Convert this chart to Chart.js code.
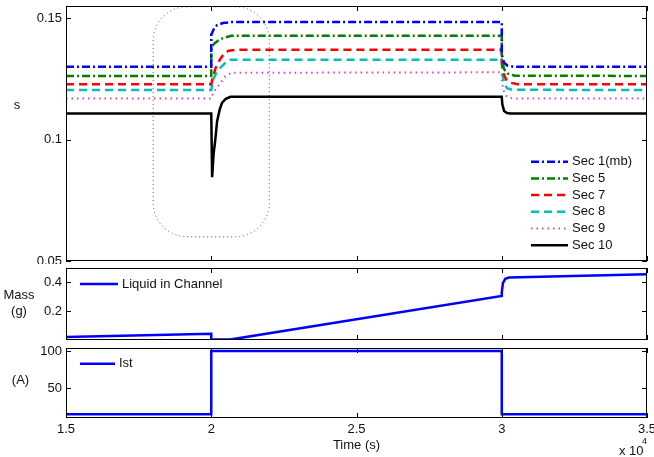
<!DOCTYPE html>
<html>
<head>
<meta charset="utf-8">
<script src="https://cdn.jsdelivr.net/npm/chart.js@4.4.1/dist/chart.umd.min.js"></script>
<style>
	html, body { margin: 0; padding: 0; background: #fff; }
	#wrap { position: relative; width: 654px; height: 457px; overflow: hidden; background: #fff; }
	canvas { position: absolute; left: 0; }
</style>
</head>
<body>
<div id="wrap">
	<canvas id="sec-chart" width="654" height="264" style="top:0"></canvas>
	<canvas id="mass-chart" width="654" height="80" style="top:264px"></canvas>
	<canvas id="ist-chart" width="654" height="113" style="top:344px"></canvas>
</div>
<script>
// shared x axis (time in s, shown as x 10^4)
const xTickValues = [15000, 20000, 25000, 30000, 35000];
const xTickLabels = ["1.5", "2", "2.5", "3", "3.5"];

const secTickValues = [0.05, 0.1, 0.15];
const secTickLabels = ["0.05", "0.1", "0.15"];
const massTickValues = [0.2, 0.4];
const massTickLabels = ["0.2", "0.4"];
const istTickValues = [50, 100];
const istTickLabels = ["50", "100"];

const secLabels = ["Sec 1(mb)", "Sec 5", "Sec 7", "Sec 8", "Sec 9", "Sec 10"];

// [time, s]
const sec1 = [[15000, 0.1300], [20000, 0.1300], [20000, 0.1432], [20100, 0.1458], [20200, 0.1471], [20400, 0.1480], [20700, 0.1484], [30000, 0.1484], [30000, 0.1350], [30080, 0.1316], [30200, 0.1304], [30400, 0.1300], [35000, 0.1300]];
const sec5 = [[15000, 0.1262], [20000, 0.1262], [20000, 0.1378], [20100, 0.1395], [20250, 0.1409], [20450, 0.1420], [20700, 0.1427], [30000, 0.1428], [30000, 0.1330], [30080, 0.1290], [30200, 0.1272], [30450, 0.1263], [35000, 0.1262]];
const sec7 = [[15000, 0.1228], [20000, 0.1228], [20050, 0.1255], [20150, 0.1295], [20300, 0.1330], [20450, 0.1355], [20600, 0.1366], [20850, 0.1370], [30000, 0.1370], [30000, 0.1320], [30050, 0.1275], [30150, 0.1247], [30300, 0.1234], [30550, 0.1228], [35000, 0.1228]];
const sec8 = [[15000, 0.1204], [20000, 0.1204], [20030, 0.1225], [20080, 0.1250], [20200, 0.1282], [20370, 0.1302], [20500, 0.1318], [20660, 0.1329], [30000, 0.1329], [30020, 0.1270], [30080, 0.1230], [30180, 0.1212], [30350, 0.1205], [35000, 0.1204]];
const sec9 = [[15000, 0.1169], [20000, 0.1169], [20080, 0.1195], [20240, 0.1220], [20480, 0.1260], [20700, 0.1275], [30000, 0.1277], [30000, 0.1245], [30050, 0.1205], [30150, 0.1180], [30300, 0.1171], [30500, 0.1169], [35000, 0.1169]];
const sec10 = [[15000, 0.1107], [20000, 0.1107], [20030, 0.0845], [20080, 0.0940], [20140, 0.1000], [20200, 0.1075], [20290, 0.1123], [20370, 0.1151], [20500, 0.1168], [20660, 0.1176], [30000, 0.1176], [30020, 0.1145], [30080, 0.1118], [30180, 0.1109], [30300, 0.1107], [35000, 0.1107]];

// [time, g]
const massLiquid = [[15000, 0.020], [20000, 0.043], [20000, 0.003], [20650, 0.003], [30000, 0.306], [30000, 0.330], [30040, 0.395], [30120, 0.425], [30250, 0.434], [35000, 0.457]];
// [time, A]
const istCurrent = [[15000, 15], [20000, 15], [20000, 100], [30000, 100], [30000, 15], [35000, 15]];

// dotted region marked round the step at t = 2e4: [xMin, xMax, yMin, yMax]
const focusRegion = [18000, 22000, 0.06, 0.1547];

const FONT = "'Liberation Sans', Arial, Helvetica, sans-serif";
const TEXT = "#111";

const toXY = arr => arr.map(p => ({ x: p[0], y: p[1] }));

const matlabAxes = {
	id: "matlabAxes",
	beforeDatasetsDraw(chart, args, opts) {
		if (!opts.region) return;
		const { ctx, scales: { x, y } } = chart;
		const [x0, x1, y0, y1] = opts.region;
		const l = x.getPixelForValue(x0);
		const r = x.getPixelForValue(x1);
		const t = y.getPixelForValue(y1);
		const b = y.getPixelForValue(y0);
		ctx.save();
		ctx.strokeStyle = "#555";
		ctx.lineWidth = 1;
		ctx.setLineDash([1, 3]);
		ctx.beginPath();
		ctx.roundRect(l, t, r - l, b - t, 34);
		ctx.stroke();
		ctx.restore();
	},
	afterDraw(chart, args, opts) {
		const { ctx, chartArea: a, scales: { x, y } } = chart;
		ctx.save();
		ctx.strokeStyle = "#000";
		ctx.lineWidth = 1;
		ctx.setLineDash([]);
		ctx.strokeRect(a.left + 0.5, a.top + 0.5, a.right - a.left - 1, a.bottom - a.top - 1);

		ctx.beginPath();
		xTickValues.forEach(v => {
			const px = Math.round(x.getPixelForValue(v)) + 0.5;
			ctx.moveTo(px, a.top); ctx.lineTo(px, a.top + 5);
			ctx.moveTo(px, a.bottom); ctx.lineTo(px, a.bottom - 5);
		});
		opts.yTicks.forEach(v => {
			const py = Math.round(y.getPixelForValue(v)) + 0.5;
			ctx.moveTo(a.left, py); ctx.lineTo(a.left + 5, py);
			ctx.moveTo(a.right, py); ctx.lineTo(a.right - 5, py);
		});
		ctx.stroke();

		// legend inside the axes
		const lg = opts.legend;
		ctx.font = `13px ${FONT}`;
		ctx.fillStyle = TEXT;
		ctx.textBaseline = "middle";
		ctx.textAlign = "left";
		chart.data.datasets.forEach((ds, i) => {
			const ly = lg.y + i * lg.step;
			ctx.strokeStyle = ds.borderColor;
			ctx.lineWidth = ds.borderWidth;
			ctx.setLineDash(ds.borderDash || []);
			ctx.beginPath();
			ctx.moveTo(lg.x, ly);
			ctx.lineTo(lg.x + lg.len, ly);
			ctx.stroke();
			ctx.fillText(ds.label, lg.x + lg.len + 4, ly);
		});

		// horizontal y label at the left
		ctx.textAlign = "center";
		opts.sideLabel.lines.forEach((t, i) => {
			ctx.fillText(t, opts.sideLabel.x, opts.sideLabel.y + i * 16.7);
		});

		if (opts.exponent) {
			ctx.textAlign = "left";
			ctx.fillText("x 10", 619, 107);
			ctx.font = `9px ${FONT}`;
			ctx.fillText("4", 642, 97.5);
		}
		ctx.restore();
	},
};

function buildChart(canvasId, datasets, yCfg, pluginOpts, padding, showX) {
	const ctx = document.getElementById(canvasId).getContext("2d");
	return new Chart(ctx, {
		type: "line",
		data: { datasets },
		plugins: [matlabAxes],
		options: {
			responsive: false,
			animation: false,
			layout: { padding },
			elements: { point: { radius: 0 }, line: { tension: 0 } },
			plugins: {
				legend: { display: false },
				tooltip: { enabled: false },
				matlabAxes: pluginOpts,
			},
			scales: {
				x: {
					type: "linear",
					display: showX,
					min: 15000,
					max: 35000,
					afterBuildTicks: s => { s.ticks = xTickValues.map(v => ({ value: v })); },
					afterFit: s => {
						if (showX) s.height = 39;
						s.paddingLeft = 0;
						s.paddingRight = 0;
					},
					ticks: {
						autoSkip: false,
						maxRotation: 0,
						padding: 4,
						color: TEXT,
						font: { family: FONT, size: 13 },
						callback: (v, i) => xTickLabels[i],
					},
					grid: { display: false, drawTicks: false },
					border: { display: false },
					title: {
						display: showX,
						text: "Time (s)",
						color: TEXT,
						padding: { top: 0, bottom: 4 },
						font: { family: FONT, size: 13 },
					},
				},
				y: {
					type: "linear",
					min: yCfg.min,
					max: yCfg.max,
					afterBuildTicks: s => { s.ticks = yCfg.ticks.map(v => ({ value: v })); },
					afterFit: s => {
						s.width = 66;
						s.paddingTop = 0;
						s.paddingBottom = 0;
					},
					ticks: {
						autoSkip: false,
						padding: 4,
						color: TEXT,
						font: { family: FONT, size: 13 },
						callback: (v, i) => yCfg.labels[i],
					},
					grid: { display: false, drawTicks: false },
					border: { display: false },
				},
			},
		},
	});
}

const secStyles = [
	{ color: "#0000ff", dash: [8, 3, 2, 3], width: 2.5 },
	{ color: "#008000", dash: [8, 3, 2, 3], width: 2.5 },
	{ color: "#ff0000", dash: [8, 5], width: 2.5 },
	{ color: "#00bfbf", dash: [8, 5], width: 2.5 },
	{ color: "#cc44cc", dash: [1.5, 4], width: 2 },
	{ color: "#000000", dash: [], width: 2.5 },
];
const secSeries = [sec1, sec5, sec7, sec8, sec9, sec10];

buildChart(
	"sec-chart",
	secSeries.map((s, i) => ({
		label: secLabels[i],
		data: toXY(s),
		borderColor: secStyles[i].color,
		borderDash: secStyles[i].dash,
		borderWidth: secStyles[i].width,
		borderCapStyle: "butt",
		fill: false,
	})),
	{ min: 0.05, max: 0.155, ticks: secTickValues, labels: secTickLabels },
	{
		yTicks: secTickValues,
		region: focusRegion,
		legend: { x: 531, y: 161.7, step: 16.7, len: 37 },
		sideLabel: { lines: ["s"], x: 17, y: 105 },
	},
	{ left: 0, right: 7, top: 6, bottom: 3 },
	false
);

buildChart(
	"mass-chart",
	[{
		label: "Liquid in Channel",
		data: toXY(massLiquid),
		borderColor: "#0000ff",
		borderWidth: 2.5,
		fill: false,
	}],
	{ min: 0, max: 0.5, ticks: massTickValues, labels: massTickLabels },
	{
		yTicks: massTickValues,
		legend: { x: 80, y: 20, step: 16.7, len: 38 },
		sideLabel: { lines: ["Mass", "(g)"], x: 19, y: 31 },
	},
	{ left: 0, right: 7, top: 4, bottom: 4 },
	false
);

buildChart(
	"ist-chart",
	[{
		label: "Ist",
		data: toXY(istCurrent),
		borderColor: "#0000ff",
		borderWidth: 2.5,
		fill: false,
	}],
	{ min: 10, max: 104, ticks: istTickValues, labels: istTickLabels },
	{
		yTicks: istTickValues,
		legend: { x: 80, y: 19.7, step: 16.7, len: 35 },
		sideLabel: { lines: ["(A)"], x: 20.5, y: 36.7 },
		exponent: true,
	},
	{ left: 0, right: 7, top: 4, bottom: 0 },
	true
);
</script>
</body>
</html>
